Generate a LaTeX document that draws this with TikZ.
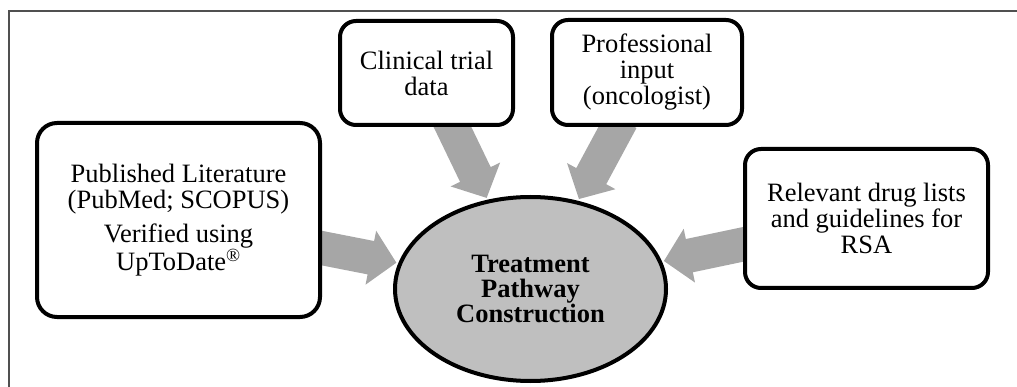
\documentclass[tikz,border=0pt]{standalone}
\usepackage{fontspec}
\setmainfont{Liberation Serif}
\usetikzlibrary{calc,shapes.geometric,backgrounds}

\definecolor{arrowgray}{HTML}{A6A6A6}
\definecolor{hubgray}{HTML}{BFBFBF}
\definecolor{framegray}{HTML}{505050}

% Broad grey block arrow from the border of node #1 towards node #2
\newcommand\feedarrow[2]{%
  \path (#1) -- (#2) coordinate[pos=0] (fa-s) coordinate[pos=1] (fa-e);
  \coordinate (fa-t) at ($(fa-e)!2pt!(fa-s)$);
  \coordinate (fa-b) at ($(fa-t)!26pt!(fa-s)$);
  \coordinate (fa-0) at ($(fa-s)!-8pt!(fa-t)$);
  \fill[arrowgray] ($(fa-0)!17pt!90:(fa-t)$) -- ($(fa-b)!17pt!90:(fa-t)$)
    -- ($(fa-b)!27.5pt!90:(fa-t)$) -- (fa-t) -- ($(fa-b)!27.5pt!-90:(fa-t)$)
    -- ($(fa-b)!17pt!-90:(fa-t)$) -- ($(fa-0)!17pt!-90:(fa-t)$) -- cycle;}

\tikzset{
  txt/.style={font=\fontsize{26.5}{26}\selectfont, align=center},
  src/.style={txt, draw, line width=4pt, fill=white, rounded corners=16pt, inner sep=0pt},
  hub/.style={txt, ellipse, draw, line width=4pt, fill=hubgray, inner sep=0pt,
    font=\fontsize{26.5}{25}\selectfont\bfseries},
}

\begin{document}
\begin{tikzpicture}[x=1pt, y=-1pt]
  \useasboundingbox (0,0) rectangle (1017,387);
  \clip (0,0) rectangle (1017,387);

  % page frame
  \draw[framegray, line width=1.2pt] (9,400) -- (9,11) -- (1030,11);

  % sources
  \node[src, rounded corners=20pt, minimum width=283pt, minimum height=194pt] (lit) at (178.5,220)
    {Published Literature\\(PubMed; SCOPUS)\\[8pt]Verified using\\UpToDate\textsuperscript{®}};
  \node[src, minimum width=173pt, minimum height=104pt] (clin) at (426.5,73)
    {Clinical trial\\data};
  \node[src, minimum width=190pt, minimum height=105pt] (prof) at (647,72.5)
    {Professional\\input\\(oncologist)};
  \node[src, minimum width=243pt, minimum height=139pt] (rel) at (866.5,218.5)
    {Relevant drug lists\\and guidelines for\\RSA};

  % central outcome
  \node[hub, minimum width=271pt, minimum height=184pt] (tp) at (530.5,289)
    {Treatment\\Pathway\\Construction};

  % inputs feeding the centre
  \begin{pgfonlayer}{background}
    \feedarrow{lit}{tp}
    \feedarrow{clin}{tp}
    \feedarrow{prof}{tp}
    \feedarrow{rel}{tp}
  \end{pgfonlayer}
\end{tikzpicture}
\end{document}
